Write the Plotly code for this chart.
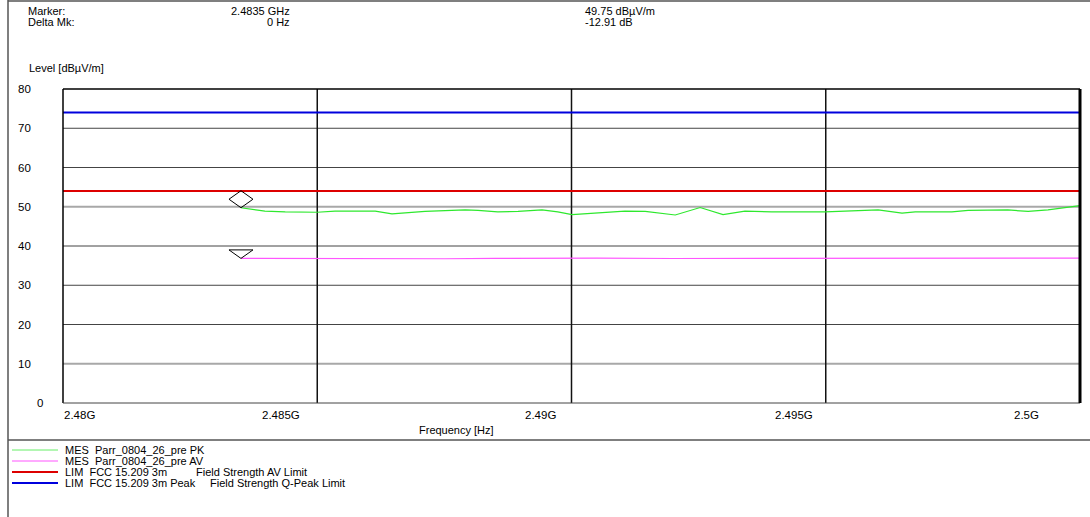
import plotly.graph_objects as go

# ---------------- data ----------------
pk_freq = [2.48350, 2.48397, 2.48437, 2.48500, 2.48535, 2.48614, 2.48647, 2.48673,
           2.48712, 2.48791, 2.48816, 2.48855, 2.48895, 2.48942, 2.48973, 2.49001,
           2.49052, 2.49105, 2.49145, 2.49204, 2.49253, 2.49298, 2.49341, 2.49394,
           2.49499, 2.49552, 2.49603, 2.49650, 2.49676, 2.49748, 2.49780, 2.49858,
           2.49898, 2.49937, 2.50000]
pk_level = [49.75, 48.9, 48.7, 48.6, 48.9, 48.9, 48.2, 48.5, 48.8, 49.2, 49.1, 48.7,
            48.8, 49.2, 48.7, 48.0, 48.4, 48.9, 48.8, 47.9, 49.8, 48.0, 48.9, 48.7,
            48.7, 48.9, 49.2, 48.4, 48.7, 48.7, 49.1, 49.2, 48.8, 49.2, 50.3]

av_freq = [2.4835, 2.4845, 2.4875, 2.4885, 2.4895, 2.4905, 2.4920, 2.4975, 2.4985, 2.5000]
av_level = [36.84, 36.80, 36.75, 36.85, 36.95, 36.90, 36.82, 36.82, 36.92, 36.90]

lim_freq = [2.48, 2.50]
lim_av = [54, 54]
lim_peak = [74, 74]

marker_freq = 2.4835
marker_pk = 49.75
marker_av = 36.84

x_grid = [2.485, 2.49, 2.495]
x_tick_text = ["2.48G", "2.485G", "2.49G", "2.495G", "2.5G"]
x_tick_label_pos = [2.480334, 2.484287, 2.489400, 2.494375, 2.498938]
y_tick_vals = [0, 10, 20, 30, 40, 50, 60, 70, 80]
y_grid_dark = [20, 30, 40, 60, 70]
y_grid_light = [10, 50]

header_rows = [("Marker:", "2.4835 GHz", "49.75 dBµV/m"),
               ("Delta Mk:", "0 Hz", "-12.91 dB")]
legend_rows = [("MES  Parr_0804_26_pre PK", "", "#66ee66", 1),
               ("MES  Parr_0804_26_pre AV", "", "#ff55ff", 1),
               ("LIM  FCC 15.209 3m", "Field Strength AV Limit", "#dd0000", 2),
               ("LIM  FCC 15.209 3m Peak", "Field Strength Q-Peak Limit", "#0000dd", 2)]
legend_col2_px = [0, 0, 194, 208]

# ---------------- layout geometry ----------------
W, H = 1090, 517
L, R, T, B = 63, 10, 89, 114
PW, PH = W - L - R, H - T - B


def px(xp):
    return (xp - L) / PW


def py(yp):
    return (H - B - yp) / PH


FONT = "Liberation Sans, Arial, sans-serif"
TXT = 11
TICK = 11.5

fig = go.Figure()
fig.add_trace(go.Scatter(x=lim_freq, y=lim_peak, mode="lines",
                         line=dict(color="#0000dd", width=2), showlegend=False))
fig.add_trace(go.Scatter(x=lim_freq, y=lim_av, mode="lines",
                         line=dict(color="#dd0000", width=2), showlegend=False))
fig.add_trace(go.Scatter(x=pk_freq, y=pk_level, mode="lines",
                         line=dict(color="#2ee82e", width=1.2), showlegend=False))
fig.add_trace(go.Scatter(x=av_freq, y=av_level, mode="lines",
                         line=dict(color="#ff55ff", width=1.2), showlegend=False))

shapes = []
for v in y_grid_dark:
    shapes.append(dict(type="line", xref="paper", yref="y", x0=0, x1=1, y0=v, y1=v,
                       line=dict(color="#444444", width=1), layer="below"))
for v in y_grid_light:
    shapes.append(dict(type="line", xref="paper", yref="y", x0=0, x1=1, y0=v, y1=v,
                       line=dict(color="#a8a8a8", width=2), layer="below"))
for v in x_grid:
    shapes.append(dict(type="line", xref="x", yref="paper", x0=v, x1=v, y0=0, y1=1,
                       line=dict(color="#111111", width=1.5), layer="below"))
# plot frame
shapes += [
    dict(type="line", xref="paper", yref="paper", x0=0, x1=1, y0=1, y1=1,
         line=dict(color="black", width=1.5)),
    dict(type="line", xref="paper", yref="paper", x0=0, x1=0, y0=0, y1=1,
         line=dict(color="black", width=1.5)),
    dict(type="line", xref="paper", yref="paper", x0=0, x1=1, y0=0, y1=0,
         line=dict(color="#444444", width=1)),
    dict(type="line", xref="paper", yref="paper", x0=1, x1=1, y0=0, y1=1,
         line=dict(color="black", width=3)),
]
# outer page frame and separator
shapes += [
    dict(type="line", xref="paper", yref="paper", x0=px(8), x1=px(8), y0=py(0), y1=py(517),
         line=dict(color="#555555", width=1.5)),
    dict(type="line", xref="paper", yref="paper", x0=px(8), x1=px(1090), y0=py(1), y1=py(1),
         line=dict(color="#555555", width=1.5)),
    dict(type="line", xref="paper", yref="paper", x0=px(8), x1=px(1090), y0=py(440), y1=py(440),
         line=dict(color="#555555", width=1.5)),
]
# marker symbols (pixel-sized, anchored at marker data points)
shapes.append(dict(type="path", xref="x", yref="y", xsizemode="pixel", ysizemode="pixel",
                   xanchor=marker_freq, yanchor=marker_pk,
                   path="M0,0 L-12,8.5 L0,17 L12,8.5 Z",
                   line=dict(color="black", width=1), fillcolor="rgba(0,0,0,0)"))
shapes.append(dict(type="path", xref="x", yref="y", xsizemode="pixel", ysizemode="pixel",
                   xanchor=marker_freq, yanchor=marker_av,
                   path="M0,0 L-12,8.5 L12,8.5 Z",
                   line=dict(color="black", width=1), fillcolor="rgba(0,0,0,0)"))

ann = []
# header
for i, (a, b, c) in enumerate(header_rows):
    yy = py(11 + i * 10.5)
    ann.append(dict(text=a, x=px(26), y=yy, xanchor="left"))
    ann.append(dict(text=b, x=px(292), y=yy, xanchor="right"))
    ann.append(dict(text=c, x=px(583), y=yy, xanchor="left"))
ann.append(dict(text="Level [dBµV/m]", x=px(27), y=py(68), xanchor="left"))
ann.append(dict(text="Frequency [Hz]", x=px(456), y=py(430), xanchor="center"))
# y tick labels
for v in y_tick_vals:
    ann.append(dict(text=str(v), xref="paper", yref="y", x=px(45 if v == 0 else 33), y=v,
                    xanchor="right", font=dict(size=TICK)))
# x tick labels
for t, xv in zip(x_tick_text, x_tick_label_pos):
    ann.append(dict(text=t, xref="x", yref="paper", x=xv, y=py(415), xanchor="center",
                    font=dict(size=TICK)))
# legend
for i, (t1, t2, col, w) in enumerate(legend_rows):
    yp = 450 + i * 11
    shapes.append(dict(type="line", xref="paper", yref="paper", x0=px(12), x1=px(58),
                       y0=py(yp), y1=py(yp), line=dict(color=col, width=w)))
    ann.append(dict(text=t1, x=px(63), y=py(yp), xanchor="left"))
    if t2:
        ann.append(dict(text=t2, x=px(legend_col2_px[i]), y=py(yp), xanchor="left"))

for a in ann:
    a.setdefault("xref", "paper")
    a.setdefault("yref", "paper")
    a.setdefault("yanchor", "middle")
    a.setdefault("font", dict(size=TXT))
    a["font"] = dict(family=FONT, color="black", **a["font"])
    a["showarrow"] = False

fig.update_layout(
    width=W, height=H, autosize=False,
    margin=dict(l=L, r=R, t=T, b=B, pad=0),
    paper_bgcolor="white", plot_bgcolor="white",
    font=dict(family=FONT, size=TXT, color="black"),
    xaxis=dict(range=[2.48, 2.5], showgrid=False, zeroline=False, showticklabels=False,
               ticks="", showline=False, fixedrange=True),
    yaxis=dict(range=[0, 80], showgrid=False, zeroline=False, showticklabels=False,
               ticks="", showline=False, fixedrange=True),
    shapes=shapes, annotations=ann, showlegend=False,
)

fig.write_html("out.html", config={"displayModeBar": False},
               post_script="document.body.style.margin='0';document.body.style.overflow='hidden';")
